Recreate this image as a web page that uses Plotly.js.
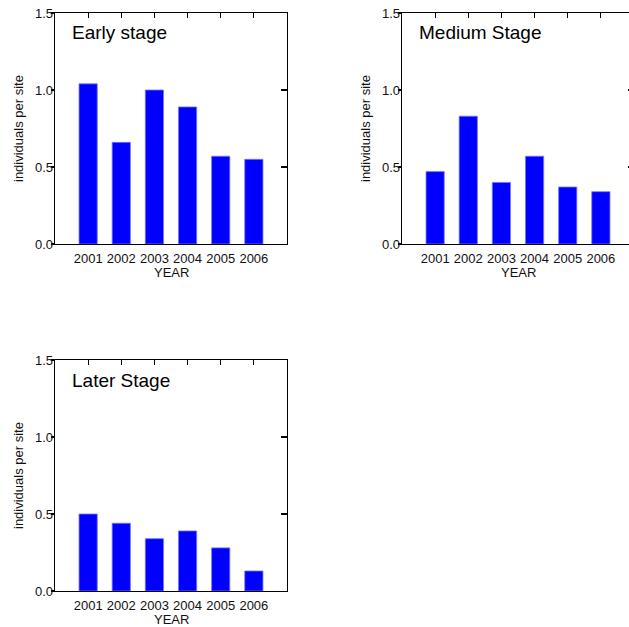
<!DOCTYPE html>
<html>
<head>
<meta charset="utf-8">
<script src="https://cdn.plot.ly/plotly-3.0.1.min.js"></script>
<style>
html,body{margin:0;padding:0;overflow:hidden;background:#fff;}
#chart{width:640px;height:627px;}
</style>
</head>
<body>
<div id="chart"></div>
<script>
const years = ['2001', '2002', '2003', '2004', '2005', '2006'];
const earlyStage = [1.04, 0.66, 1.00, 0.89, 0.57, 0.55];
const mediumStage = [0.47, 0.83, 0.40, 0.57, 0.37, 0.34];
const laterStage = [0.50, 0.44, 0.34, 0.39, 0.28, 0.13];
const panelTitles = ['Early stage', 'Medium Stage', 'Later Stage'];
const yTickVals = [0, 0.5, 1.0, 1.5];
const yTickText = ['0.0', '0.5', '1.0', '1.5'];
const xTitle = 'YEAR';
const yTitle = 'individuals per site';

const W = 640, H = 627;
const FONT = 'Liberation Sans, Arial, sans-serif';
const TXT = '#111';

// panels in pixel coordinates: left, right, top, bottom
const panels = [
  {l: 55, r: 287, t: 13, b: 244, data: earlyStage, title: panelTitles[0]},
  {l: 402, r: 634, t: 13, b: 244, data: mediumStage, title: panelTitles[1]},
  {l: 55, r: 287, t: 360, b: 591, data: laterStage, title: panelTitles[2]}
];

const px = v => v / W;
const py = v => 1 - v / H;

const traces = [];
const layout = {
  width: W, height: H,
  margin: {l: 0, r: 0, t: 0, b: 0},
  paper_bgcolor: '#fff', plot_bgcolor: '#fff',
  showlegend: false,
  font: {family: FONT, size: 13, color: TXT},
  annotations: []
};

const idxPos = years.map((_, i) => i);

panels.forEach((p, k) => {
  const xm = 2 * k + 1, xt = 2 * k + 2;
  const xmName = xm === 1 ? 'x' : 'x' + xm;
  const ymName = xm === 1 ? 'y' : 'y' + xm;
  const xtName = 'x' + xt, ytName = 'y' + xt;
  const xdom = [px(p.l), px(p.r)];
  const ydom = [py(p.b), py(p.t)];

  traces.push({
    type: 'bar', x: idxPos, y: p.data,
    xaxis: xmName, yaxis: ymName,
    width: 0.55,
    marker: {color: '#0000ff', line: {color: '#7777ff', width: 0.8}},
    hoverinfo: 'skip'
  });
  // invisible trace to activate overlay axes
  traces.push({
    type: 'scatter', mode: 'markers', x: [], y: [],
    xaxis: xtName, yaxis: ytName, hoverinfo: 'skip'
  });

  const axKey = n => n === 1 ? '' : String(n);
  layout['xaxis' + axKey(xm)] = {
    domain: xdom, anchor: ymName, type: 'linear', range: [-1, 6],
    tickmode: 'array', tickvals: idxPos, ticktext: years,
    ticks: '', showgrid: false, zeroline: false,
    showline: true, linecolor: '#000', linewidth: 1.3,
    tickfont: {family: FONT, size: 13, color: TXT},
    ticklabelstandoff: 2,
    fixedrange: true
  };
  layout['yaxis' + axKey(xm)] = {
    domain: ydom, anchor: xmName, range: [0, 1.5],
    tickmode: 'array', tickvals: yTickVals, ticktext: yTickText,
    ticks: 'outside', ticklen: 3, tickwidth: 1.2, tickcolor: '#000',
    showgrid: false, zeroline: false,
    showline: true, linecolor: '#000', linewidth: 1.3,
    tickfont: {family: FONT, size: 13, color: TXT},
    ticklabelstandoff: -5,
    fixedrange: true
  };
  layout['xaxis' + xt] = {
    overlaying: xmName, side: 'top', anchor: ymName, type: 'linear', range: [-1, 6],
    tickmode: 'array', tickvals: idxPos, showticklabels: false,
    ticks: 'inside', ticklen: 5, tickwidth: 1.2, tickcolor: '#000',
    showgrid: false, zeroline: false,
    showline: true, linecolor: '#000', linewidth: 1.3,
    fixedrange: true
  };
  layout['yaxis' + xt] = {
    overlaying: ymName, side: 'right', anchor: xmName, range: [0, 1.5],
    tickmode: 'array', tickvals: [0.5, 1.0], showticklabels: false,
    ticks: 'inside', ticklen: 6, tickwidth: 1.2, tickcolor: '#000',
    showgrid: false, zeroline: false,
    showline: true, linecolor: '#000', linewidth: 1.3,
    fixedrange: true
  };

  // panel title
  layout.annotations.push({
    text: p.title, xref: 'paper', yref: 'paper',
    x: px(p.l + 15), y: py(p.t + 20), xanchor: 'left', yanchor: 'middle',
    showarrow: false, font: {family: FONT, size: 19, color: '#000'}
  });
  // x axis title
  layout.annotations.push({
    text: xTitle, xref: 'paper', yref: 'paper',
    x: px((p.l + p.r) / 2), y: py(p.b + 28), xanchor: 'center', yanchor: 'middle',
    showarrow: false, font: {family: FONT, size: 13, color: TXT}
  });
  // y axis title
  layout.annotations.push({
    text: yTitle, xref: 'paper', yref: 'paper', textangle: -90,
    x: px(p.l - 36.5), y: py((p.t + p.b) / 2), xanchor: 'center', yanchor: 'middle',
    showarrow: false, font: {family: FONT, size: 13, color: TXT}
  });
});

Plotly.newPlot('chart', traces, layout, {staticPlot: true, displayModeBar: false});
</script>
</body>
</html>
